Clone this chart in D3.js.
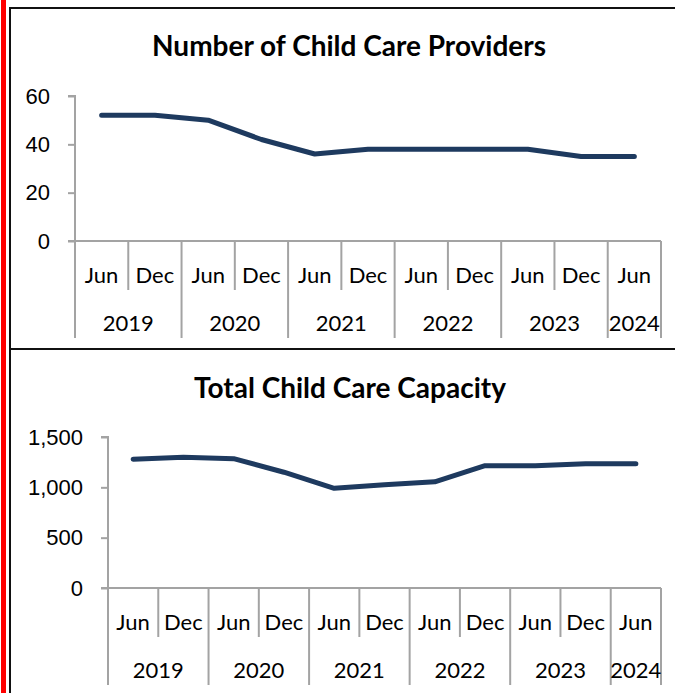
<!DOCTYPE html>
<html>
<head>
<meta charset="utf-8">
<script src="https://cdn.jsdelivr.net/npm/d3@7"></script>
<style>
  body { margin: 0; background: #fff; }
  svg { display: block; font-family: Lato, "Open Sans", sans-serif; }
</style>
</head>
<body>
<div id="chart"></div>
<script>
// 数据
const months = ["Jun", "Dec", "Jun", "Dec", "Jun", "Dec", "Jun", "Dec", "Jun", "Dec", "Jun"];
const years = ["2019", "2020", "2021", "2022", "2023", "2024"];
const yearSpans = [2, 2, 2, 2, 2, 1];
const providers = [52, 52, 50, 42, 36, 38, 38, 38, 38, 35, 35];
const capacity = [1280, 1300, 1285, 1150, 990, 1025, 1055, 1215, 1215, 1235, 1235];
const providerTicks = [0, 20, 40, 60];
const capacityTicks = [0, 500, 1000, 1500];

const W = 675, H = 693;
const lineColor = "#1e3a5f";
const axisColor = "#a3a3a3";

const svg = d3.select("#chart")
    .append("svg")
    .attr("width", W)
    .attr("height", H);

// 边框
svg.append("rect").attr("x", 1).attr("y", 0).attr("width", 5).attr("height", H).attr("fill", "#ff0000");
svg.append("line").attr("x1", 10).attr("x2", 10).attr("y1", 7).attr("y2", H)
    .attr("stroke", "#111").attr("stroke-width", 2);
svg.append("line").attr("x1", 9).attr("x2", W).attr("y1", 8).attr("y2", 8)
    .attr("stroke", "#111").attr("stroke-width", 2);
svg.append("line").attr("x1", 9).attr("x2", W).attr("y1", 349).attr("y2", 349)
    .attr("stroke", "#111").attr("stroke-width", 2);

function drawChart(cfg) {
    const g = svg.append("g");
    const ids = months.map((m, i) => i);

    const x = d3.scaleBand()
        .domain(ids)
        .range([cfg.left, cfg.right]);

    const y = d3.scaleLinear()
        .domain([0, cfg.max])
        .range([cfg.bottom, cfg.top]);

    // 标题
    g.append("text")
        .attr("x", cfg.titleX)
        .attr("y", cfg.titleY)
        .attr("text-anchor", "middle")
        .style("font-size", "28px")
        .style("font-weight", "bold")
        .text(cfg.title);

    // y 轴
    const yAxis = d3.axisLeft(y)
        .tickValues(cfg.ticks)
        .tickSize(7)
        .tickPadding(18)
        .tickFormat(d3.format(","));
    const ya = g.append("g")
        .attr("transform", `translate(${cfg.left},0)`)
        .call(yAxis);
    ya.select(".domain").attr("stroke", axisColor).attr("stroke-width", 2)
        .attr("d", `M-7,${cfg.top}H0V${cfg.bottom}`);
    ya.selectAll(".tick line").attr("stroke", axisColor).attr("stroke-width", 2);
    ya.selectAll(".tick text")
        .style("font-size", "22px")
        .attr("fill", "#000");

    // x 轴
    g.append("line")
        .attr("x1", cfg.left - 7).attr("x2", cfg.right)
        .attr("y1", cfg.bottom).attr("y2", cfg.bottom)
        .attr("stroke", axisColor).attr("stroke-width", 2);

    // 月份分隔线
    const yearStarts = [];
    let acc = 0;
    yearSpans.forEach(s => { yearStarts.push(acc); acc += s; });
    yearStarts.push(acc);

    ids.forEach(i => {
        if (!yearStarts.includes(i)) {
            g.append("line")
                .attr("x1", x(i)).attr("x2", x(i))
                .attr("y1", cfg.bottom).attr("y2", cfg.bottom + 49)
                .attr("stroke", axisColor).attr("stroke-width", 2);
        }
    });
    yearStarts.forEach(i => {
        const xx = i < ids.length ? x(i) : cfg.right;
        g.append("line")
            .attr("x1", xx).attr("x2", xx)
            .attr("y1", cfg.bottom).attr("y2", cfg.bottom + 97)
            .attr("stroke", axisColor).attr("stroke-width", 2);
    });

    g.selectAll(".month")
        .data(months)
        .join("text")
        .attr("x", (d, i) => x(i) + x.bandwidth() / 2)
        .attr("y", cfg.bottom + 42)
        .attr("text-anchor", "middle")
        .style("font-size", "22px")
        .text(d => d);

    g.selectAll(".year")
        .data(years)
        .join("text")
        .attr("x", (d, i) => {
            const a = x(yearStarts[i]);
            const b = yearStarts[i + 1] < ids.length ? x(yearStarts[i + 1]) : cfg.right;
            return (a + b) / 2;
        })
        .attr("y", cfg.bottom + 90)
        .attr("text-anchor", "middle")
        .style("font-size", "22px")
        .text(d => d);

    // 折线
    const line = d3.line()
        .x((d, i) => x(i) + x.bandwidth() / 2)
        .y(d => y(d));
    g.append("path")
        .datum(cfg.values)
        .attr("d", line)
        .attr("fill", "none")
        .attr("stroke", lineColor)
        .attr("stroke-width", 5)
        .attr("stroke-linecap", "round")
        .attr("stroke-linejoin", "round");
}

drawChart({
    title: "Number of Child Care Providers",
    titleX: 349, titleY: 56,
    left: 75, right: 661, top: 96, bottom: 241,
    max: 60, ticks: providerTicks, values: providers
});

drawChart({
    title: "Total Child Care Capacity",
    titleX: 350, titleY: 398,
    left: 108, right: 661, top: 437, bottom: 588,
    max: 1500, ticks: capacityTicks, values: capacity
});
</script>
</body>
</html>
